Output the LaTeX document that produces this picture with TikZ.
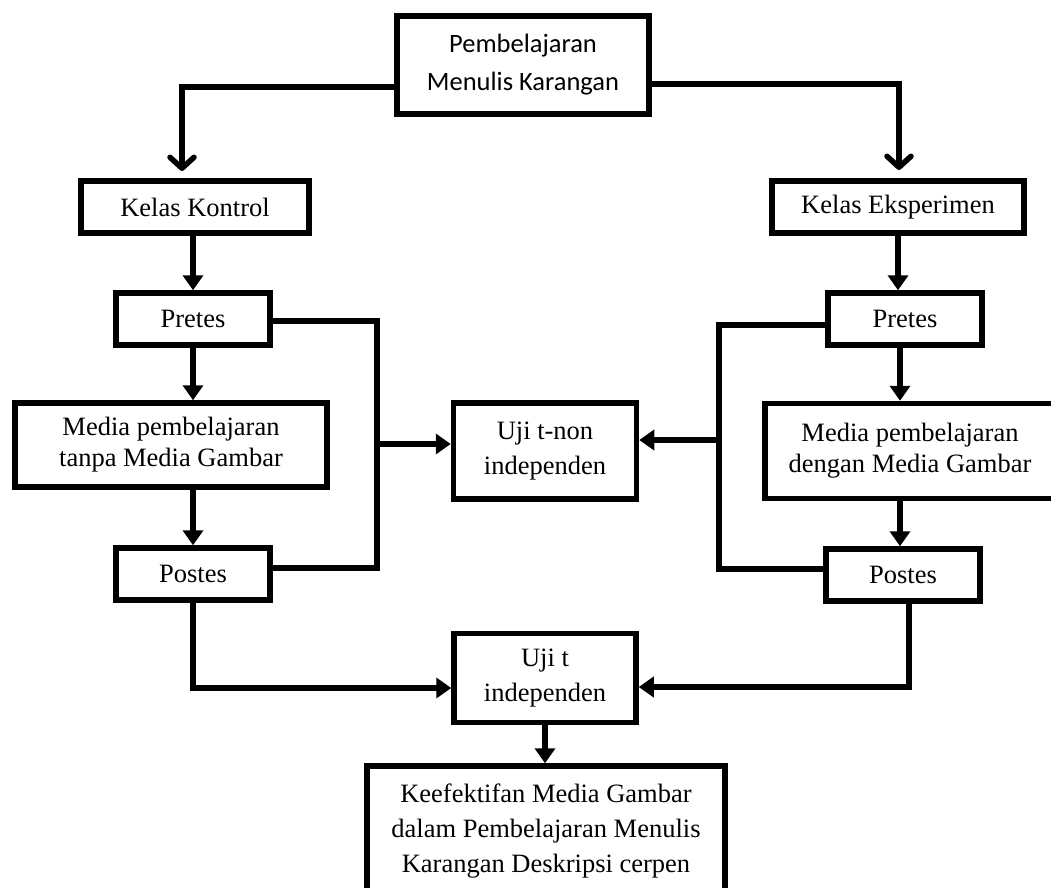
\documentclass[tikz,border=0pt]{standalone}
\usepackage{fontspec}
\setmainfont{Liberation Serif}
\newfontfamily\sansjudul{Carlito}
\usetikzlibrary{arrows.meta}
\tikzstyle{kotak}=[draw, line width=5.5pt, align=center, inner sep=0pt, font=\fontsize{26.5}{35}\selectfont]
\tikzstyle{kls}=[kotak, minimum height = 52pt, minimum width=228pt]
\tikzstyle{tes}=[kotak, minimum height = 52pt, minimum width=154pt]
\tikzstyle{media}=[kotak, minimum height = 84pt, minimum width=312pt]
\tikzstyle{uji}=[kotak, minimum height = 96pt, minimum width=183pt]

\begin{document}
\begin{tikzpicture}[x=1pt,y=-1pt,line width=5.5pt,>={Triangle[length=15pt,width=20pt]}]
\useasboundingbox (0,0) rectangle (1051,887);
\clip (0,0) rectangle (1051,887);

  \node[kotak, minimum width=252pt, minimum height=98pt, font=\sansjudul\fontsize{26.5}{38}\selectfont] at (523,65) (judul) {Pembelajaran\\Menulis Karangan};
  \node[kls] at (195,207) (kontrol) {Kelas Kontrol};
  \node[kls, minimum width=252pt] at (898,207) (eksperimen) {Kelas Eksperimen};

  \node[tes] at (193,319) (pretes1) {Pretes};
  \node[tes] at (905,319) (pretes2) {Pretes};

  \node[media] at (171,445) (media1) {Media pembelajaran\\[-4pt]tanpa Media Gambar};
  \node[media, minimum width=290pt, minimum height=95pt] at (910,451) (media2) {Media pembelajaran\\[-4pt]dengan Media Gambar};

  \node[tes] at (193,574) (postes1) {Postes};
  \node[tes] at (903,575) (postes2) {Postes};

  \node[uji] at (545,451) (ujinon) {Uji t-non\\independen};
  \node[uji, minimum height=89pt, minimum width=182pt] at (545,678) (ujit) {Uji t\\independen};
  \node[kotak, minimum width=358pt, minimum height=130pt] at (546,831) (hasil) {Keefektifan Media Gambar\\dalam Pembelajaran Menulis\\Karangan Deskripsi cerpen};

  \coordinate (ujungkiri) at (182,171);
  \coordinate (ujungkanan) at (899,170);
\draw[-{Straight Barb[length=11pt,width=24pt,round]}] ([yshift=-22pt]judul.west) -| (ujungkiri);
\draw[-{Straight Barb[length=11pt,width=24pt,round]}] ([yshift=-19pt]judul.east) -| (ujungkanan);

\draw[->] (kontrol.south -| pretes1.north) -- (pretes1.north);
\draw[->] (eksperimen.south) -- (eksperimen.south |- pretes2.north);

  \coordinate (xkanan) at (900,0);
\draw[->] (pretes1.south) -- (pretes1.south |- media1.north);
\draw[->] (media1.south -| postes1.north) -- (postes1.north);
\draw[->] (pretes2.south -| xkanan) -- (media2.north -| xkanan);
\draw[->] (media2.south -| xkanan) -- (postes2.north -| xkanan);

% ke uji t-non independen
  \coordinate (simpulkiri) at (377,444);
  \coordinate (simpulkanan) at (719,440);
\draw ([yshift=-2pt]pretes1.east) -| (simpulkiri) |- ([yshift=6pt]postes1.east);
\draw[->] (simpulkiri) -- (simpulkiri -| ujinon.west);
\draw ([yshift=-6pt]pretes2.west) -| (simpulkanan) |- ([yshift=6pt]postes2.west);
\draw[->] (simpulkanan) -- (simpulkanan -| ujinon.east);

% ke uji t independen
\draw[->] (postes1.south) |- ([yshift=-10pt]ujit.west);
\draw[->] ([xshift=6pt]postes2.south) |- ([yshift=-9pt]ujit.east);
\draw[->] (ujit.south) -- (ujit.south |- hasil.north);
\end{tikzpicture}
\end{document}
